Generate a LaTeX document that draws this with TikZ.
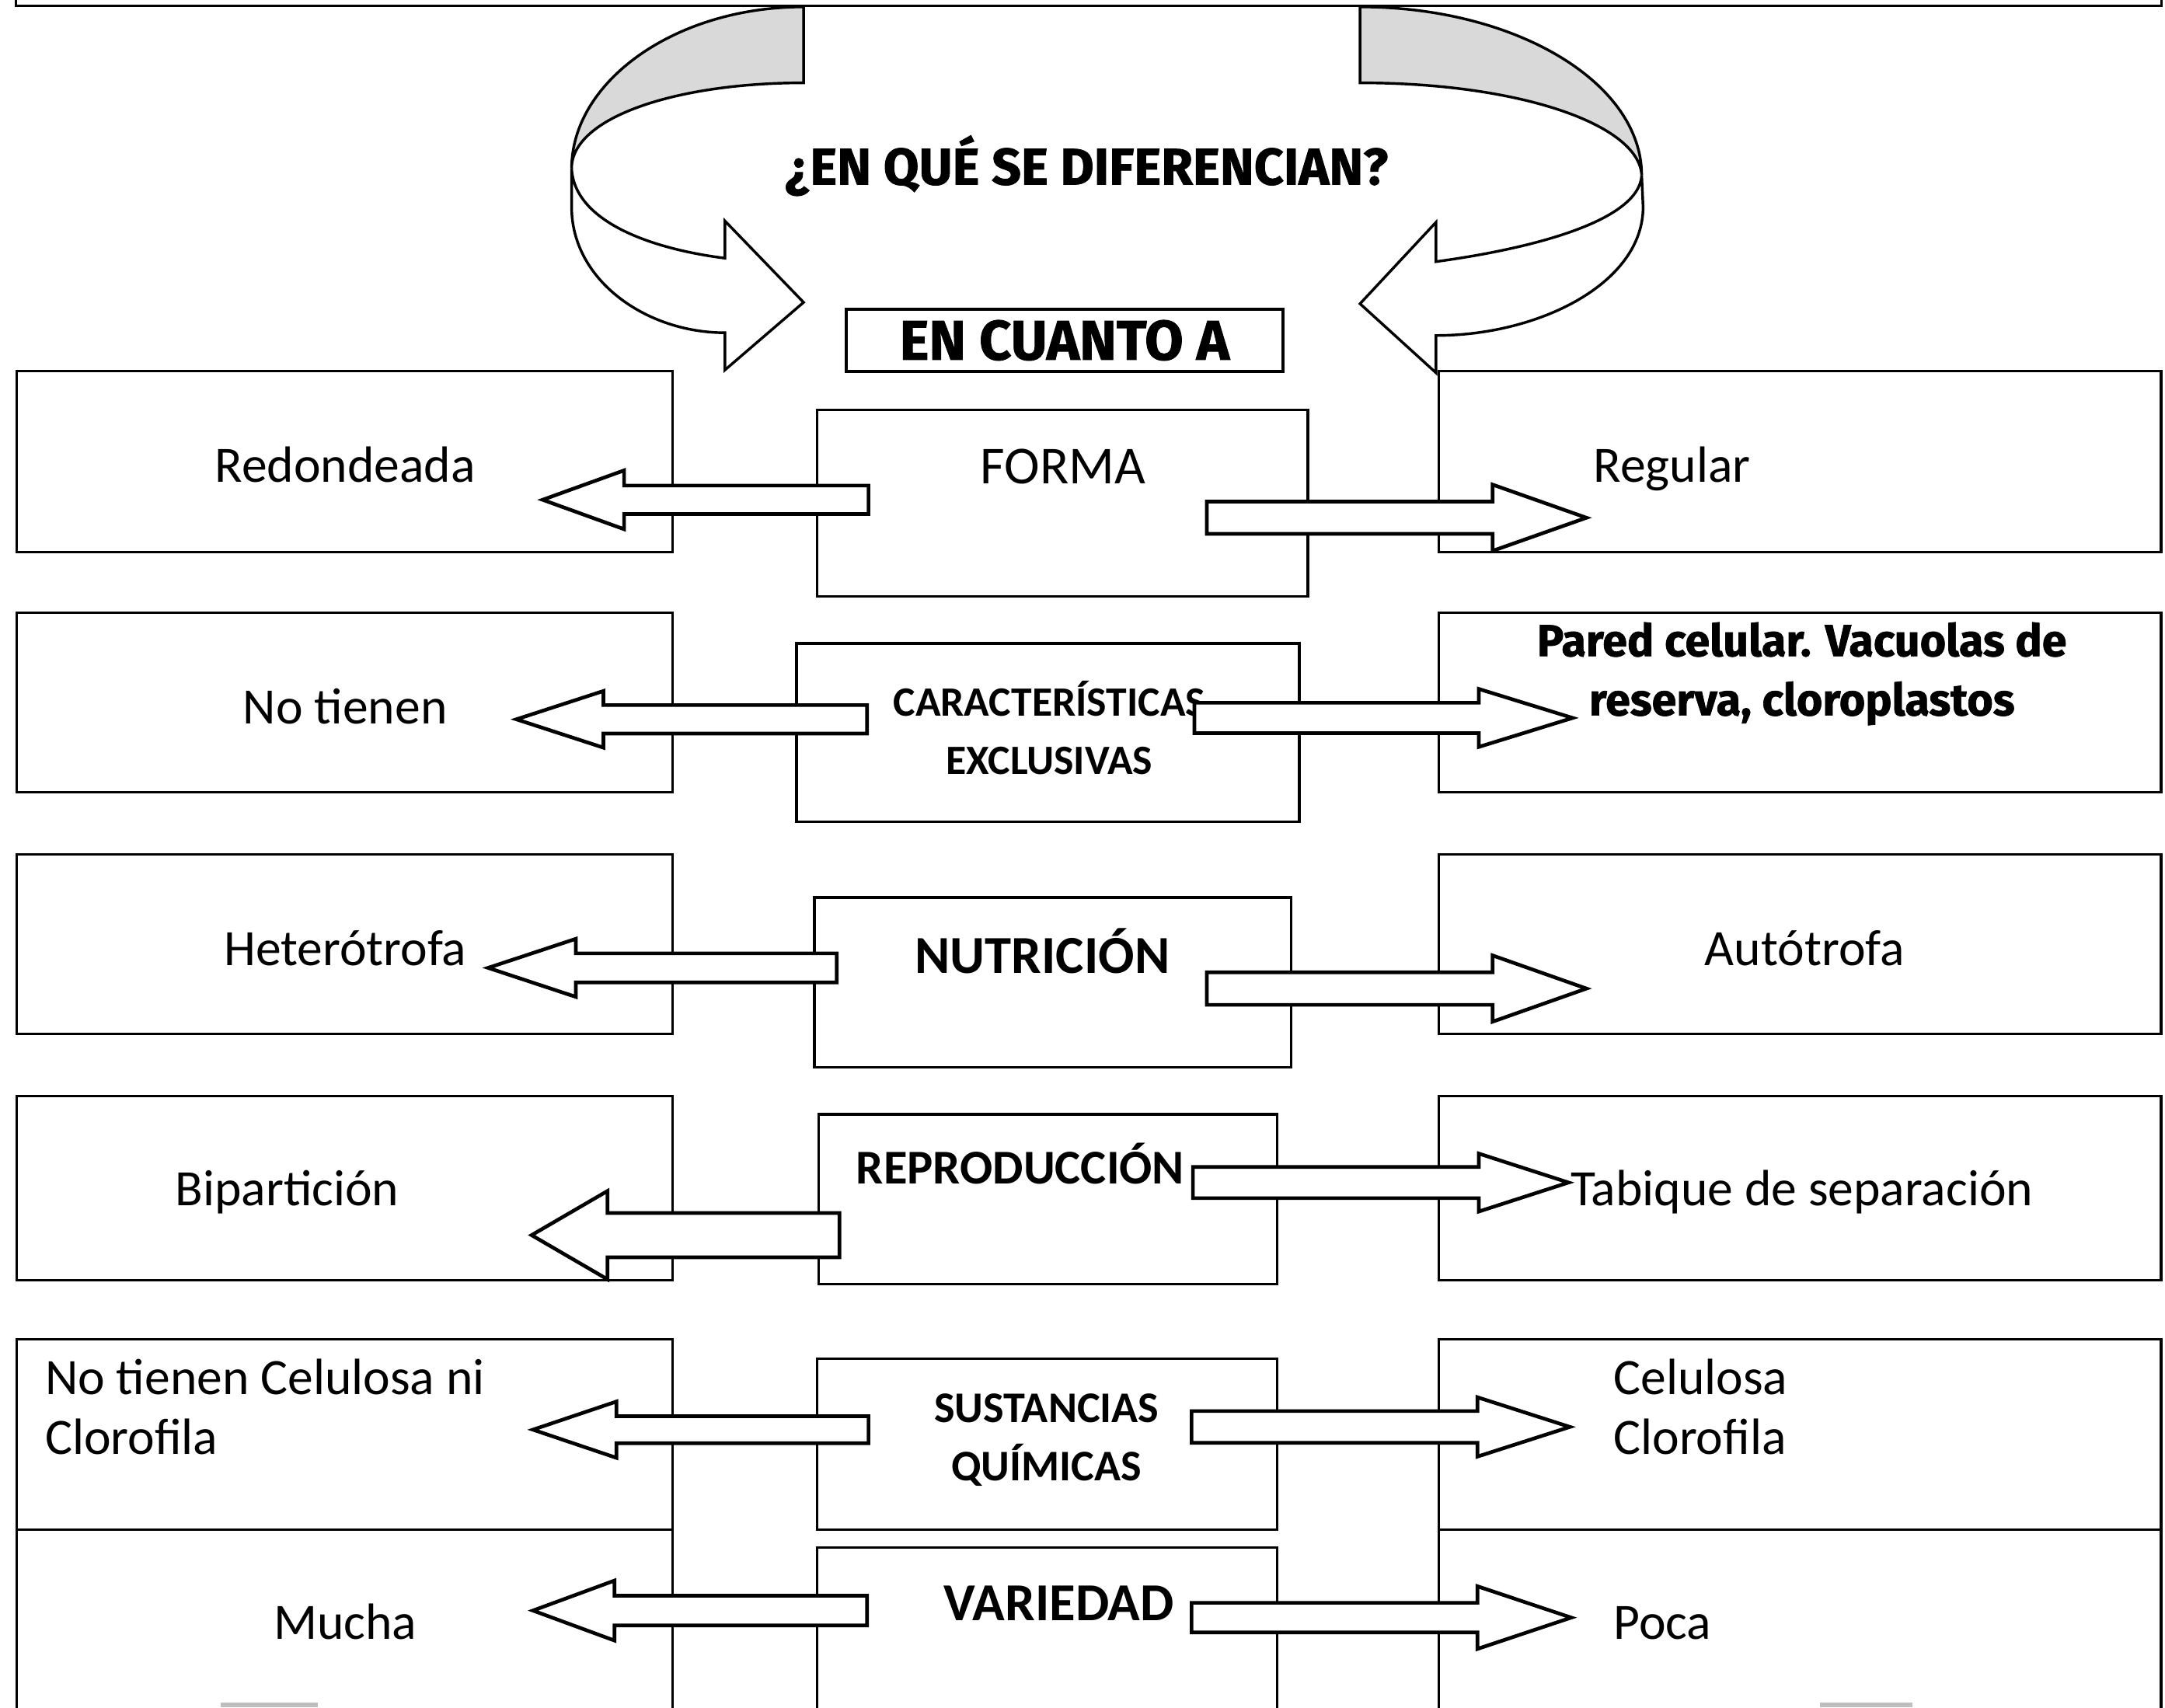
\documentclass[tikz,border=0pt]{standalone}
\usepackage{fontspec}
\setmainfont{Carlito}
\newfontfamily\heavyfont{Fira Sans}[BoldFeatures={FakeBold=1.2}]
\usetikzlibrary{calc}
\tikzset{sidebox/.style={rectangle, draw=black, line width=0.5pt, inner sep=0pt}}
\tikzset{midbox/.style={rectangle, draw=black, line width=0.55pt, inner sep=0pt}}
\tikzset{lbl/.style={inner sep=0pt, text height=1.6ex, text depth=0.25ex, font=\fontsize{10.5}{12.2}\selectfont}}
\tikzset{lbltwo/.style={inner sep=0pt, align=left, anchor=west, font=\fontsize{10.5}{12.2}\selectfont}}
\tikzset{midlbl/.style={inner sep=0pt, align=center, font=\bfseries\fontsize{8.6}{12}\selectfont}}
\tikzset{heavy/.style={inner sep=0pt, align=center, font=\heavyfont\bfseries\fontsize{10.6}{12.2}\selectfont}}
\tikzset{barrow/.style={draw=black, fill=white, line width=0.75pt, line join=miter}}
\tikzset{twist/.style={draw=black, line width=0.55pt}}
\newcommand{\blockarrow}[6]{\draw[barrow] (#1,{#3-#5}) -- (#4,{#3-#5}) -- (#4,{#3-#6}) -- (#2,#3) -- (#4,{#3+#6}) -- (#4,{#3+#5}) -- (#1,{#3+#5}) -- cycle;}

\begin{document}
\begin{tikzpicture}[x=0.01cm, y=-0.01cm]
		\clip (0,0) rectangle (1568,1237);
		\node[sidebox, minimum width=15.53cm, minimum height=1.04cm] at (788.5,-48) (top) {};

		\node[sidebox, minimum width=4.75cm, minimum height=1.31cm] at (249.5,334.5) (l1) {};
		\node[sidebox, minimum width=5.23cm, minimum height=1.31cm] at (1303.5,334.5) (r1) {};
		\node[sidebox, minimum width=4.75cm, minimum height=1.30cm] at (249.5,509) (l2) {};
		\node[sidebox, minimum width=5.23cm, minimum height=1.30cm] at (1303.5,509) (r2) {};
		\node[sidebox, minimum width=4.75cm, minimum height=1.30cm] at (249.5,684) (l3) {};
		\node[sidebox, minimum width=5.23cm, minimum height=1.30cm] at (1303.5,684) (r3) {};
		\node[sidebox, minimum width=4.75cm, minimum height=1.33cm] at (249.5,860.5) (l4) {};
		\node[sidebox, minimum width=5.23cm, minimum height=1.33cm] at (1303.5,860.5) (r4) {};
		\node[sidebox, minimum width=4.75cm, minimum height=1.38cm] at (249.5,1039) (l5) {};
		\node[sidebox, minimum width=5.23cm, minimum height=1.38cm] at (1303.5,1039) (r5) {};
		\node[sidebox, minimum width=4.75cm, minimum height=1.52cm] at (249.5,1184) (l6) {};
		\node[sidebox, minimum width=5.23cm, minimum height=1.52cm] at (1303.5,1184) (r6) {};

		\node[midbox, minimum width=3.55cm, minimum height=1.35cm] at (769.5,364.5) (forma) {};
		\node[midbox, minimum width=3.64cm, minimum height=1.29cm] at (759,530.5) (caract) {};
		\node[midbox, minimum width=3.45cm, minimum height=1.23cm] at (762.5,711.5) (nutri) {};
		\node[midbox, minimum width=3.32cm, minimum height=1.23cm] at (759,868.5) (repro) {};
		\node[midbox, minimum width=3.33cm, minimum height=1.24cm] at (758.5,1046) (sust) {};
		\node[midbox, minimum width=3.33cm, minimum height=1.39cm] at (758.5,1190.5) (varie) {};

		\node[heavy] at (787,120) (pregunta) {¿EN QUÉ SE DIFERENCIAN?};
		\node[midbox, heavy, font=\heavyfont\bfseries\fontsize{11.5}{13}\selectfont, minimum width=3.16cm, minimum height=0.45cm] at (771,246.5) (encuanto) {EN CUANTO A};

		\node[lbl] at (250,338) (redondeada) {Redondeada};
		\node[inner sep=0pt, font=\fontsize{11}{13}\selectfont] at (770,338) (formalbl) {FORMA};
		\node[lbl] at (1211,338) (regular) {Regular};
		\node[lbl] at (250,513) (notienen) {No tienen};
		\node[midlbl] at (760,527) (caractlbl) {CARACTERÍSTICAS\\EXCLUSIVAS};
		\node[heavy, font=\heavyfont\bfseries\fontsize{9.2}{12.2}\selectfont] at (1305,488) (pared) {Pared celular. Vacuolas de\\reserva, cloroplastos};
		\node[lbl] at (250,688) (hetero) {Heterótrofa};
		\node[midlbl, font=\bfseries\fontsize{11}{13}\selectfont] at (755,689) (nutrilbl) {NUTRICIÓN};
		\node[lbl] at (1307,688) (auto) {Autótrofa};
		\node[lbl] at (208,862) (bipart) {Bipartición};
		\node[midlbl, font=\bfseries\fontsize{10}{12}\selectfont] at (739,843) (reprolbl) {REPRODUCCIÓN};
		\node[lbl] at (1305,862) (tabique) {Tabique de separación};
		\node[lbltwo] at (32,1019) (nocelulosa) {No tienen Celulosa ni\\Clorofila};
		\node[midlbl, font=\bfseries\fontsize{9}{12}\selectfont] at (758,1043) (sustlbl) {SUSTANCIAS\\QUÍMICAS};
		\node[lbltwo] at (1168,1019) (celulosa) {Celulosa\\Clorofila};
		\node[lbl] at (250,1176) (mucha) {Mucha};
		\node[midlbl, font=\bfseries\fontsize{11}{13}\selectfont] at (767,1161) (varielbl) {VARIEDAD};
		\node[lbl, anchor=west] at (1168,1176) (poca) {Poca};

		\blockarrow{629}{393}{362}{452}{10.3}{21.3}
		\blockarrow{874}{1149}{375}{1081}{11.7}{24}
		\blockarrow{628}{374}{521}{437}{10.3}{20.5}
		\blockarrow{865}{1139}{520}{1071}{11}{21}
		\blockarrow{606}{353.5}{701}{417}{10.5}{21}
		\blockarrow{874}{1149}{716}{1081}{11.8}{24}
		\blockarrow{608}{385}{894.6}{440}{16}{32}
		\blockarrow{864}{1136}{856.5}{1071}{11.3}{21}
		\blockarrow{629}{386}{1035.5}{446.5}{9.8}{20.4}
		\blockarrow{863}{1137}{1033.5}{1070}{11.5}{21.5}
		\blockarrow{628}{386}{1166.5}{445}{10.8}{21.7}
		\blockarrow{863}{1138}{1171.6}{1070}{10.7}{22.7}

		\filldraw[twist, fill=gray!30] (582,5) .. controls (489,5) and (414,59) .. (414,122) .. controls (414,85) and (490,60) .. (582,60) -- cycle;
		\filldraw[twist, fill=white] (414,122) -- (414,150) .. controls (414,203) and (468,241) .. (525,241) -- (525,268) -- (582,219) -- (525,160) -- (525,187) .. controls (470,180) and (416,160) .. (414,122) -- cycle;
		\filldraw[twist, fill=gray!30] (985,5) .. controls (1098,5) and (1189,60) .. (1189,127) .. controls (1187,90) and (1100,60) .. (985,60) -- cycle;
		\filldraw[twist, fill=white] (1189,127) -- (1190,150) .. controls (1190,205) and (1115,243) .. (1040,243) -- (1040,270) -- (985,220) -- (1040,161) -- (1040,189.5) .. controls (1110,180) and (1187,160) .. (1189,127) -- cycle;

		\draw[gray!50, line width=1pt] (160,1235) -- (230,1235);
		\draw[gray!50, line width=1pt] (1318,1235) -- (1385,1235);
		\end{tikzpicture}
\end{document}
